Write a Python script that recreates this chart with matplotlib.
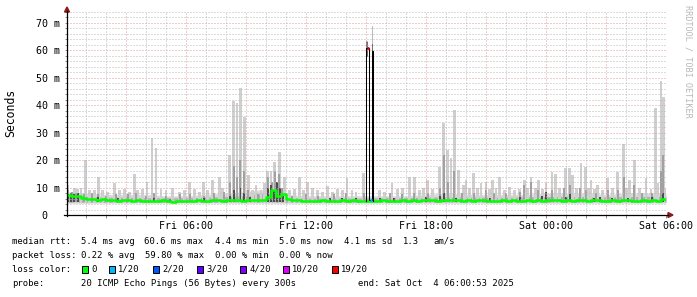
import matplotlib
matplotlib.use("Agg")
import matplotlib.pyplot as plt
import matplotlib.ticker as mticker
from matplotlib.patches import Rectangle, Polygon
import numpy as np

plt.rcParams['font.family'] = ['DejaVu Sans Mono']

# time axis: hours since Fri 00:00, ends Sat 06:00
tick_hours = [6, 12, 18, 24, 30]
tick_labels = ["Fri 06:00", "Fri 12:00", "Fri 18:00", "Sat 00:00", "Sat 06:00"]
y_ticks = [0, 10, 20, 30, 40, 50, 60, 70]
y_labels = ["0  ", "10 m", "20 m", "30 m", "40 m", "50 m", "60 m", "70 m"]

# median rtt (ms), one value per 15 minutes
median_ms = [
    7.2, 6.8, 7.0, 6.2, 5.9,
    6.0, 5.6, 5.8, 5.4, 5.5, 5.2, 5.4, 5.3,
    5.1, 5.3, 5.2, 5.0, 5.2, 5.1, 5.3, 5.0,
    4.9, 5.1, 5.0, 5.2, 5.1, 5.3, 5.0, 5.2,
    5.3, 5.4, 5.2, 5.5, 5.3, 5.6, 5.2, 5.4,
    5.3, 5.5, 5.4, 6.4, 9.2, 7.0, 7.8, 5.9,
    5.4, 5.3, 5.1, 5.2, 5.0, 5.2, 5.3, 5.1,
    5.2, 5.0, 5.3, 5.1, 5.4, 5.2, 5.1, 5.2,
    5.0, 5.2, 5.3, 5.1, 5.2, 5.0, 5.3, 5.2,
    5.4, 5.2, 5.3, 5.5, 5.3, 5.2, 5.6, 5.4,
    5.3, 5.5, 5.2, 5.4, 5.1, 5.3, 5.5, 5.2,
    5.0, 5.2, 5.4, 5.1, 5.3, 5.2, 5.0, 5.3,
    5.2, 5.4, 5.1, 5.3, 5.6, 5.3, 5.2, 5.4,
    5.1, 5.3, 5.5, 5.2, 5.4, 5.3, 5.1, 5.2,
    5.4, 5.2, 5.5, 5.3, 5.2, 5.1, 5.3, 5.2,
    5.4, 5.2, 5.8, 5.5,
]
median_hours = np.linspace(0, 30, len(median_ms))

# hourly smoke band (ms)
smoke_floor = 4.3
band_top = [8.5, 8, 7.5, 7.5, 7.5, 7, 7, 7.5, 8, 8.5, 9.5, 7.5, 7, 7, 7, 7,
            7, 7, 7.5, 8, 7.5, 7.5, 7.5, 7.5, 8, 8, 8, 7.5, 8, 8, 8]
band_mid = [7, 6.8, 6.5, 6.5, 6.3, 6.3, 6.3, 6.5, 6.7, 7, 8, 6.5, 6.2, 6.2, 6.2, 6.2,
            6.3, 6.3, 6.5, 6.6, 6.5, 6.5, 6.5, 6.6, 6.7, 6.8, 6.7, 6.6, 6.7, 6.8, 6.8]
band_hours = np.arange(len(band_top))

# light smoke spikes (max ping)
spike_h = [0.08, 0.42, 0.58, 0.75, 0.97, 1.17, 1.42, 1.63, 1.83, 2.08, 2.42, 2.67, 2.92,
           3.17, 3.42, 3.58, 3.83, 4.05, 4.3, 4.5, 4.75, 5.0, 5.33, 5.67, 5.92, 6.17,
           6.42, 6.67, 6.87, 7.08, 7.33, 7.67, 7.83, 8.17, 8.38, 8.55, 8.72, 8.92, 9.13,
           9.33, 9.5, 9.75, 9.92,
           10.08, 10.25, 10.42, 10.67, 10.92, 11.17, 11.42, 11.67, 11.87, 12.08, 12.33,
           12.58, 12.83, 13.08, 13.33, 13.58, 13.83, 14.05, 14.3, 14.5, 14.88, 15.67,
           15.92, 16.3, 16.58, 16.83, 17.17, 17.42, 17.67, 17.87, 18.08, 18.33, 18.67,
           18.88, 19.08, 19.25, 19.42, 19.63, 19.87,
           20.0, 20.17, 20.37, 20.58, 20.75, 21.0, 21.17, 21.33, 21.5, 21.67, 21.92,
           22.17, 22.42, 22.67, 22.92, 23.08, 23.25, 23.47, 23.63, 23.83, 24.0, 24.3,
           24.47, 24.67, 24.97, 25.17, 25.33, 25.53, 25.75, 25.97, 26.13, 26.25, 26.42,
           26.58, 26.83, 27.08, 27.33, 27.58, 27.88, 28.03, 28.17, 28.42, 28.67, 29.0,
           29.25, 29.47, 29.58, 29.75, 29.87, 29.97]
spike_ms = [11, 10, 9.5, 10, 20, 9, 9, 14, 9, 8.5, 11.7, 9, 9.5,
            8.5, 15, 9, 9.5, 12, 28, 24.5, 9.5, 9, 9.8, 8.5, 9, 12,
            9.5, 8.5, 12, 9, 12.8, 13.9, 10, 22, 41.5, 41, 46.2, 35.8, 14.6,
            9, 11, 9, 11.7,
            16, 16, 19.4, 23, 14, 9, 9.5, 14, 9, 12, 10,
            9, 8.5, 10.6, 8.5, 9.5, 9, 13.5, 9, 8.5, 15.3, 9,
            8.5, 11.7, 9.5, 10, 13.9, 14, 9, 10, 12.8, 9.5, 17.5,
            33.5, 23.7, 20.8, 38.3, 16.4, 11,
            12.8, 10, 15.3, 10, 11.7, 12, 9.5, 12.8, 10, 13.9, 9,
            10.3, 9, 9.5, 12.8, 10, 13.9, 10, 12.8, 9.5, 11.7, 15.7,
            15, 10, 17, 17, 14.6, 10, 19, 17.5, 10, 12.8, 9.5,
            11, 9, 13.5, 10, 15.7, 26, 10, 12.8, 20, 10, 13.5,
            9.5, 39, 11.7, 49, 43, 10]

# medium grey smoke
mid_h = [0.1, 0.3, 0.5, 0.9, 1.3, 1.6, 2.0, 2.5, 3.1, 3.5, 4.0, 4.4, 5.0, 5.7, 6.2, 6.9,
         7.4, 7.9, 8.2, 8.4, 8.55, 8.72, 8.9, 9.1, 9.6, 10.1, 10.3, 10.45, 10.65, 10.8,
         11.3, 12.0, 12.6, 13.4, 14.0, 14.9, 16.2, 16.8, 17.4, 18.1, 18.7, 18.88, 19.1,
         19.42, 19.8, 20.4, 21.0, 21.4, 22.0, 22.7, 22.9, 23.25, 23.6, 24.3, 24.9, 25.2,
         25.7, 26.0, 26.5, 27.1, 27.6, 27.88, 28.4, 28.8, 29.3, 29.75, 29.87]
mid_ms = [9, 8.5, 8, 7.5, 8, 7.5, 7, 7.5, 7.5, 8, 7, 8, 7, 7.5, 7.5, 7,
          8, 8.5, 12, 18, 14, 20, 16, 9, 7.5, 14, 12, 16, 15, 10,
          7, 7.5, 7, 7.5, 8, 8, 8, 7.5, 8, 8, 10, 22, 12,
          16, 8, 8, 9, 8, 8, 8.5, 11, 12, 9, 9, 10, 11,
          10, 9, 8, 9, 9, 14, 11, 8, 8, 16, 22]

# dark smoke next to the median
dark_h = [0.1, 0.25, 0.4, 0.6, 1.6, 2.6, 4.4, 5.2, 6.9, 8.2, 8.4, 8.72, 8.9, 9.2, 10.1,
          10.25, 10.4, 10.55, 10.7, 10.85, 13.2, 13.8, 14.5, 15.7, 16.4, 18.0, 18.7,
          18.9, 19.5, 21.2, 22.7, 23.8, 24.0, 25.0, 25.2, 26.4, 26.7, 27.3, 28.1, 29.3,
          29.85]
dark_ms = [7.8, 8, 7.5, 8.2, 6.5, 6.3, 6.2, 6, 6.3, 7, 9, 10, 8, 6.5, 10,
           11, 9, 12, 10, 7, 6.3, 6.2, 6.3, 6.2, 6.3, 6.5, 7,
           8, 6.3, 6.3, 6.5, 7, 8.5, 6.5, 7.5, 6.3, 6.5, 6.2, 6.3, 6.4,
           8]

# packet loss event around Fri 15:00
loss_h = [15.0, 15.02, 15.17, 15.32, 15.37]
loss_ms = [5.2, 61.0, 5.3, 59.8, 5.2]
loss_colors = [None, '#ff0000', '#00b8ff', '#7e00ff', None]
loss_smoke_h = [15.05, 15.33]
loss_smoke_lo = [57.5, 57.5]
loss_smoke_dark = [63.0, 62.5]
loss_smoke_light = [63.5, 69.0]

legend_colors = ['#00ff00', '#00b8ff', '#0059ff', '#5e00ff', '#7e00ff', '#dd00ff', '#ff0000']
legend_names = ["0", "1/20", "2/20", "3/20", "4/20", "10/20", "19/20"]

W, H = 697, 297
X0, X1, Y0, Y1 = 67, 666, 215, 12

fig = plt.figure(figsize=(W / 100, H / 100), dpi=100)
ax = fig.add_axes([X0 / W, 1 - Y0 / H, (X1 - X0) / W, (Y0 - Y1) / H])
ax.set_xlim(0.05, 30)
ax.set_ylim(0, 74)
for s in ax.spines.values():
    s.set_visible(False)

light, mid, dark = '#cfcfcf', '#a0a0a0', '#4d4d4d'

ax.fill_between(band_hours, smoke_floor, band_top, color='#dadada', lw=0)
ax.fill_between(band_hours, 4.6, band_mid, color='#b2b2b2', lw=0)
ax.bar(spike_h, np.array(spike_ms) - smoke_floor, bottom=smoke_floor, width=0.13,
       color=light, lw=0)
ax.bar(mid_h, np.array(mid_ms) - 4.6, bottom=4.6, width=0.1, color=mid, lw=0)
ax.bar(dark_h, np.array(dark_ms) - 4.8, bottom=4.8, width=0.07, color=dark, lw=0)

ax.bar(loss_smoke_h, np.array(loss_smoke_light) - np.array(loss_smoke_lo),
       bottom=loss_smoke_lo, width=0.06, color='#bcbcbc', lw=0)
ax.bar(loss_smoke_h, np.array(loss_smoke_dark) - np.array(loss_smoke_lo),
       bottom=loss_smoke_lo, width=0.06, color='#707070', lw=0)

ax.plot(median_hours, median_ms, color='#00ff00', lw=1.8, drawstyle='steps-post', zorder=3)
ax.plot(loss_h, loss_ms, color='black', lw=0.75, drawstyle='steps-post', zorder=4)
for i, c in enumerate(loss_colors):
    if c:
        ax.plot([loss_h[i] + 0.02, loss_h[i + 1] - 0.01], [loss_ms[i], loss_ms[i]], color=c,
                lw=2.0, solid_capstyle='butt', zorder=5)

# grid (dotted, drawn over the smoke like rrdtool does)
ax.set_axisbelow(False)
ax.xaxis.set_major_locator(mticker.MultipleLocator(3))
ax.xaxis.set_minor_locator(mticker.MultipleLocator(1))
ax.yaxis.set_major_locator(mticker.FixedLocator(y_ticks))
ax.yaxis.set_minor_locator(mticker.MultipleLocator(2))
ax.grid(which='minor', color='#bababa', lw=0.72, linestyle=(0, (1, 2)))
ax.grid(which='major', color='#e49a9a', lw=0.72, linestyle=(0, (1, 2)))

ax.set_yticklabels(y_labels, fontsize=7.2)
ax.xaxis.set_major_formatter(mticker.FuncFormatter(
    lambda v, p: tick_labels[tick_hours.index(int(round(v)))] if int(round(v)) in tick_hours else ""))
ax.tick_params(axis='x', which='both', length=2, width=0.7, color='#888888', labelsize=7.2, pad=2.5)
ax.tick_params(axis='y', which='both', length=1.5, width=0.7, color='#888888', pad=3.5)

# overlay in pixel coordinates for axes lines, arrows and legend text
ov = fig.add_axes([0, 0, 1, 1], zorder=10)
ov.set_xlim(0, W)
ov.set_ylim(H, 0)
ov.axis('off')
ov.patch.set_alpha(0)

ov.text(10.5, 113, "Seconds", rotation=90, ha='center', va='center', fontsize=8.3)

ov.plot([X0, X0], [Y0 + 1, 11], color='black', lw=0.9)
ov.plot([X0 - 3, 668], [Y0, Y0], color='black', lw=0.9)
ov.add_patch(Polygon([[X0 - 2.5, 12], [X0 + 2.5, 12], [X0, 7]], color='#8b1a1a'))
ov.add_patch(Polygon([[668, Y0 - 2.5], [668, Y0 + 2.5], [673, Y0]], color='#8b1a1a'))

ov.text(688, 5, "RRDTOOL / TOBI OETIKER", rotation=-90, ha='center', va='top',
        fontsize=6.1, color='#b8b8b8')

fs = 6.4
ov.text(12.3, 241, "median rtt:", fontsize=fs, va='center')
for x, s in [(80.7, "5.4 ms avg"), (144, "60.6 ms max"), (215, "4.4 ms min"),
             (279.3, "5.0 ms now"), (344, "4.1 ms sd"), (403.3, "1.3"), (433.3, "am/s")]:
    ov.text(x, 241, s, fontsize=fs, va='center')

ov.text(12.3, 255.5, "packet loss:", fontsize=fs, va='center')
for x, s in [(80.7, "0.22 % avg"), (145, "59.80 % max"), (215, "0.00 % min"),
             (279.3, "0.00 % now")]:
    ov.text(x, 255.5, s, fontsize=fs, va='center')

ov.text(12.3, 269.5, "loss color:", fontsize=fs, va='center')
for x, c, s in zip([81.7, 109, 153, 197, 240, 283, 332], legend_colors, legend_names):
    ov.add_patch(Rectangle((x, 266), 6, 7, facecolor=c, edgecolor='black', lw=0.7))
    ov.text(x + 9.3, 269.5, s, fontsize=fs, va='center')

ov.text(12.3, 283.5, "probe:", fontsize=fs, va='center')
ov.text(80.7, 283.5, "20 ICMP Echo Pings (56 Bytes) every 300s", fontsize=fs, va='center')
ov.text(358.3, 283.5, "end: Sat Oct  4 06:00:53 2025", fontsize=fs, va='center')

fig.savefig("out.png", dpi=100, facecolor='white')
